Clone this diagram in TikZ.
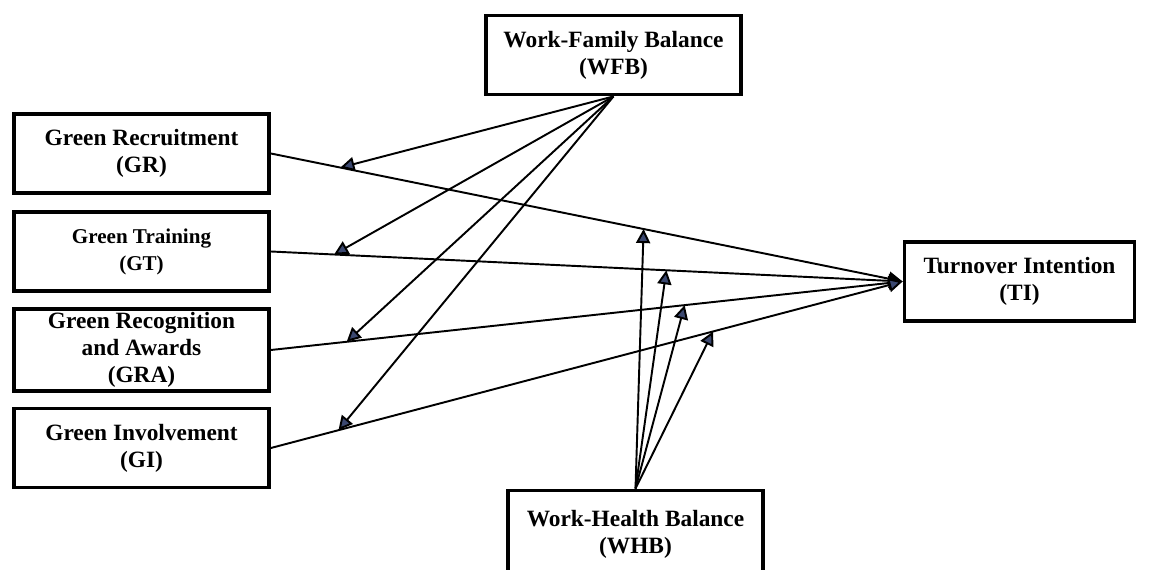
\documentclass[tikz,border=0pt]{standalone}
\usepackage{fontspec}
\setmainfont{Liberation Serif}
\usepackage{tikz}
\usetikzlibrary{arrows.meta}
\definecolor{tipblue}{HTML}{3B4870}
\tikzset{
    varbox/.style={draw, line width=2.2pt, align=center, font=\fontsize{13.3}{15.4}\selectfont\bfseries, minimum width=5.1cm, minimum height=1.58cm, inner sep=2pt},
    conn/.style={line width=1.1pt, -{Triangle[length=8pt,width=8pt,fill=tipblue]}}
}
\begin{document}
\begin{tikzpicture}[x=0.02cm, y=-0.02cm]
                    \useasboundingbox (0,0) rectangle (1150,570);

                    \node[varbox] (wfb) at (613.5, 55) {Work-Family Balance\\(WFB)};
                    \node[varbox] (gr)  at (141.5, 153.5) {Green Recruitment\\(GR)};
                    \node[varbox, font=\fontsize{12}{15.4}\selectfont\bfseries] (gt) at (141.5, 251.5) {Green Training\\(GT)};
                    \node[varbox] (gra) at (141.5, 350) {Green Recognition\\and Awards\\(GRA)};
                    \node[varbox] (gi)  at (141.5, 448) {Green Involvement\\(GI)};
                    \node[varbox, minimum width=4.6cm] (ti) at (1019.5, 281.5) {Turnover Intention\\(TI)};
                    \node[varbox, minimum height=1.74cm] (whb) at (635.5, 534) {Work-Health Balance\\(WHB)};

                    \draw[conn] (gr.east)  -- coordinate[pos=0.11] (grF)  coordinate[pos=0.59] (grH)  (ti.west);
                    \draw[conn] (gt.east)  -- coordinate[pos=0.10] (gtF)  coordinate[pos=0.626] (gtH) (ti.west);
                    \draw[conn] (gra.east) -- coordinate[pos=0.12] (graF) coordinate[pos=0.655] (graH) (ti.west);
                    \draw[conn] (gi.east)  -- coordinate[pos=0.107] (giF) coordinate[pos=0.70] (giH)  (ti.west);

                    \draw[conn] (wfb.south) -- (grF);
                    \draw[conn] (wfb.south) -- (gtF);
                    \draw[conn] (wfb.south) -- (graF);
                    \draw[conn] (wfb.south) -- (giF);

                    \draw[conn] (whb.north) -- (grH);
                    \draw[conn] (whb.north) -- (gtH);
                    \draw[conn] (whb.north) -- (graH);
                    \draw[conn] (whb.north) -- (giH);
                \end{tikzpicture}
\end{document}
